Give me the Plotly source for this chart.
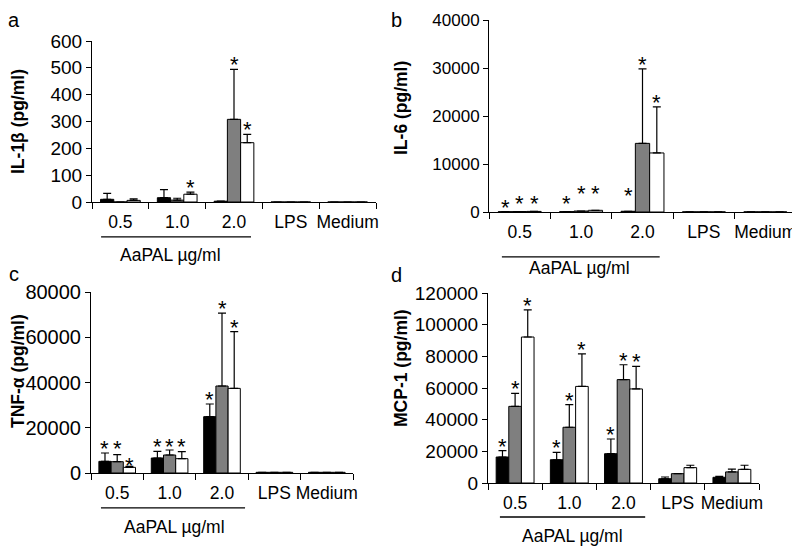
import plotly.graph_objects as go

categories = ["0.5", "1.0", "2.0", "LPS", "Medium"]
bar_colors = ["#000000", "#7f7f7f", "#ffffff"]
group_label = "AaPAL \u00b5g/ml"

# a: IL-1β
il1b_black = [10, 16, 3, 0, 0]
il1b_gray = [0, 7, 308, 0, 0]
il1b_white = [6, 29, 221, 0, 0]
il1b_black_err = [22, 30, None, None, None]
il1b_gray_err = [None, 7, 186, None, None]
il1b_white_err = [6, 8, 31, None, None]
il1b_black_star = [None, None, None, None, None]
il1b_gray_star = [None, None, 494, None, None]
il1b_white_star = [None, 37, 252, None, None]

# b: IL-6
il6_black = [60, 80, 150, 30, 30]
il6_gray = [100, 200, 14300, 30, 30]
il6_white = [120, 350, 12300, 30, 30]
il6_black_err = [None, None, None, None, None]
il6_gray_err = [None, None, 15500, None, None]
il6_white_err = [None, None, 9600, None, None]
il6_black_star = [0, 800, 2400, None, None]
il6_gray_star = [900, 3000, 29800, None, None]
il6_white_star = [900, 3000, 21900, None, None]

# c: TNF-α
tnf_black = [5150, 6630, 24900, 300, 300]
tnf_gray = [5000, 7950, 38450, 300, 300]
tnf_white = [2500, 6330, 37400, 300, 300]
tnf_black_err = [3690, 2950, 5600, None, None]
tnf_gray_err = [3100, 2220, 32250, None, None]
tnf_white_err = [450, 3100, 25060, None, None]
tnf_black_star = [9000, 9800, 30500, None, None]
tnf_gray_star = [9000, 9800, 70700, None, None]
tnf_white_star = [1500, 9800, 62460, None, None]

# d: MCP-1
mcp_black = [16400, 14700, 18500, 2700, 3600]
mcp_gray = [48400, 35200, 65300, 5900, 7000]
mcp_white = [92200, 61000, 59400, 9700, 8600]
mcp_black_err = [4000, 4700, 9300, 1100, 600]
mcp_gray_err = [8200, 14300, 9400, None, 1800]
mcp_white_err = [17100, 20500, 14300, 1500, 2600]
mcp_black_star = [20400, 19400, 27800, None, None]
mcp_gray_star = [56600, 49500, 74700, None, None]
mcp_white_star = [109300, 81500, 73700, None, None]

panels = [
    dict(letter="a", title="IL-1\u03b2 (pg/ml)", ymax=600, dtick=100, tickfs=19,
         vals=[il1b_black, il1b_gray, il1b_white],
         errs=[il1b_black_err, il1b_gray_err, il1b_white_err],
         stars=[il1b_black_star, il1b_gray_star, il1b_white_star],
         xd=(92, 376), yd=(41, 202), tx=18, ty=122, lx=14, ly=20,
         line=(-0.34, 2.30, -0.217), glab=(0.88, -0.33)),
    dict(letter="b", title="IL-6 (pg/ml)", ymax=40000, dtick=10000, tickfs=17,
         vals=[il6_black, il6_gray, il6_white],
         errs=[il6_black_err, il6_gray_err, il6_white_err],
         stars=[il6_black_star, il6_gray_star, il6_white_star],
         xd=(489, 796), yd=(20, 212), tx=401, ty=108, lx=396, ly=20,
         line=(-0.29, 2.28, -0.234), glab=(0.97, -0.29)),
    dict(letter="c", title="TNF-\u03b1 (pg/ml)", ymax=80000, dtick=20000, tickfs=20,
         vals=[tnf_black, tnf_gray, tnf_white],
         errs=[tnf_black_err, tnf_gray_err, tnf_white_err],
         stars=[tnf_black_star, tnf_gray_star, tnf_white_star],
         xd=(91, 353), yd=(292, 473), tx=18, ty=371, lx=14, ly=274,
         line=(-0.31, 2.44, -0.193), glab=(1.10, -0.30)),
    dict(letter="d", title="MCP-1 (pg/ml)", ymax=120000, dtick=20000, tickfs=19,
         vals=[mcp_black, mcp_gray, mcp_white],
         errs=[mcp_black_err, mcp_gray_err, mcp_white_err],
         stars=[mcp_black_star, mcp_gray_star, mcp_white_star],
         xd=(488, 759), yd=(293, 483), tx=401, ty=368, lx=396, ly=275,
         line=(-0.28, 2.40, -0.179), glab=(1.05, -0.28)),
]

# the page body has an 8px margin, so the figure starts at (8, 8) in the window
OFF = 8
W, H = 800 - OFF, 547 - OFF
FONT = "Arial, Liberation Sans, sans-serif"
bw = 0.233
idx = list(range(len(categories)))


def px(x):
    return (x - OFF) / W


def py(y):
    return 1 - (y - OFF) / H


fig = go.Figure()
annotations = []
shapes = []
layout = {}

for p_i, p in enumerate(panels):
    n = "" if p_i == 0 else str(p_i + 1)
    xa, ya = "x" + n, "y" + n
    for s in range(3):
        xs = [i + (s - 1) * bw for i in idx]
        err = p["errs"][s]
        fig.add_trace(go.Bar(
            x=xs, y=p["vals"][s], width=bw, xaxis=xa, yaxis=ya,
            marker=dict(color=bar_colors[s], line=dict(color="black", width=1)),
            error_y=dict(type="data", symmetric=False, array=err,
                         arrayminus=[0] * len(err), color="black",
                         thickness=1.2, width=4),
            showlegend=False,
        ))
        for x, y in zip(xs, p["stars"][s]):
            if y is None:
                continue
            annotations.append(dict(
                x=x, y=y, xref=xa, yref=ya, text="*", showarrow=False,
                yanchor="bottom", yshift=-10,
                font=dict(family=FONT, size=22, color="black")))

    layout["xaxis" + n] = dict(
        domain=[px(p["xd"][0]), px(p["xd"][1])], anchor=ya,
        range=[-0.5, len(categories) - 0.5], automargin=False,
        tickmode="array", tickvals=idx, ticktext=categories, ticks="",
        ticklabelstandoff=4,
        tickfont=dict(family=FONT, size=17.5, color="black"),
        showline=True, linecolor="black", linewidth=1, showgrid=False,
        zeroline=False, fixedrange=True,
        minor=dict(tickmode="array",
                   tickvals=[i - 0.5 for i in range(len(categories) + 1)],
                   ticks="outside", ticklen=6, tickcolor="black", tickwidth=1),
    )
    layout["yaxis" + n] = dict(
        domain=[py(p["yd"][1]), py(p["yd"][0])], anchor=xa,
        range=[0, p["ymax"]], dtick=p["dtick"], tick0=0, tickformat="d",
        automargin=False,
        ticks="outside", ticklen=5, tickcolor="black",
        tickfont=dict(family=FONT, size=p["tickfs"], color="black"),
        showline=True, linecolor="black", linewidth=1, showgrid=False,
        zeroline=False, fixedrange=True,
    )
    x0, x1, ly = p["line"]
    shapes.append(dict(type="line", xref=xa, yref=ya + " domain",
                       x0=x0, x1=x1, y0=ly, y1=ly,
                       line=dict(color="black", width=1.3)))
    annotations.append(dict(
        x=p["glab"][0], y=p["glab"][1], xref=xa, yref=ya + " domain",
        text=group_label, showarrow=False, xanchor="center", yanchor="middle",
        font=dict(family=FONT, size=17.5, color="black")))
    annotations.append(dict(
        x=px(p["tx"]), y=py(p["ty"]), xref="paper", yref="paper",
        text="<b>" + p["title"] + "</b>", textangle=-90, showarrow=False,
        xanchor="center", yanchor="middle",
        font=dict(family=FONT, size=17.5, color="black")))
    annotations.append(dict(
        x=px(p["lx"]), y=py(p["ly"]), xref="paper", yref="paper",
        text=p["letter"], showarrow=False, xanchor="center", yanchor="middle",
        borderpad=0, font=dict(family=FONT, size=20, color="black")))

fig.update_layout(
    width=W, height=H,
    margin=dict(l=0, r=0, t=0, b=0, autoexpand=False),
    paper_bgcolor="white", plot_bgcolor="white",
    barmode="overlay", showlegend=False,
    annotations=annotations, shapes=shapes,
    **layout,
)

fig.write_html("out.html")
